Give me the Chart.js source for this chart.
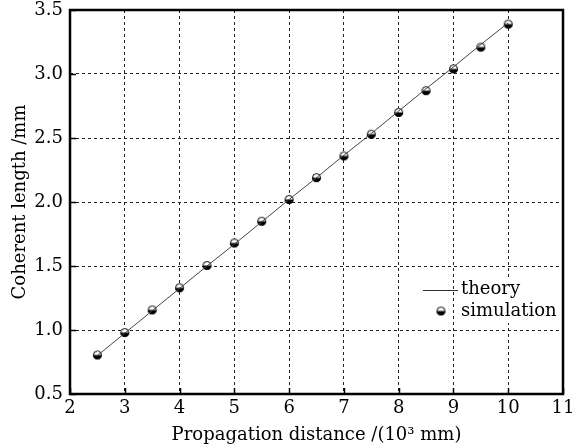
<!DOCTYPE html>
<html>
<head>
<meta charset="utf-8">
<script src="https://cdn.jsdelivr.net/npm/chart.js@4"></script>
<style>
  html, body { margin: 0; padding: 0; background: #fff; }
  #wrap { width: 576px; height: 446px; }
</style>
</head>
<body>
<div id="wrap"><canvas id="chart" width="576" height="446"></canvas></div>
<script>
// data
const distances = [2.5, 3, 3.5, 4, 4.5, 5, 5.5, 6, 6.5, 7, 7.5, 8, 8.5, 9, 9.5, 10];
const theory = [0.80, 0.975, 1.15, 1.325, 1.50, 1.67, 1.845, 2.02, 2.19, 2.365, 2.535, 2.71, 2.885, 3.055, 3.23, 3.40];
const simulation = [0.805, 0.98, 1.157, 1.33, 1.504, 1.68, 1.85, 2.02, 2.19, 2.36, 2.53, 2.70, 2.87, 3.04, 3.21, 3.39];
const xTicks = [2, 3, 4, 5, 6, 7, 8, 9, 10, 11];
const yTicks = [0.5, 1.0, 1.5, 2.0, 2.5, 3.0, 3.5];

const FONT = "'DejaVu Serif', serif";

// half filled marker (white top, black bottom)
function makeMarker(r) {
  const c = document.createElement("canvas");
  const s = r * 2 + 2;
  c.width = s; c.height = s;
  const g = c.getContext("2d");
  const m = s / 2;
  g.fillStyle = "#fff";
  g.beginPath(); g.arc(m, m, r, Math.PI, 0); g.fill();
  g.fillStyle = "#000";
  g.beginPath(); g.arc(m, m, r, 0, Math.PI); g.fill();
  g.strokeStyle = "#000";
  g.lineWidth = 1;
  g.beginPath(); g.arc(m, m, r - 0.5, 0, Math.PI * 2); g.stroke();
  return c;
}
const marker = makeMarker(4.5);

// frame, inner ticks and legend
const framePlugin = {
  id: "frame",
  afterDraw(chart) {
    const ctx = chart.ctx;
    const a = chart.chartArea;
    const xs = chart.scales.x, ys = chart.scales.y;
    ctx.save();
    ctx.strokeStyle = "#000";
    ctx.lineWidth = 1.5;
    xTicks.forEach(v => {
      const px = Math.round(xs.getPixelForValue(v)) + 0.5;
      ctx.beginPath(); ctx.moveTo(px, a.bottom); ctx.lineTo(px, a.bottom - 6); ctx.stroke();
    });
    yTicks.forEach(v => {
      const py = Math.round(ys.getPixelForValue(v)) + 0.5;
      ctx.beginPath(); ctx.moveTo(a.left, py); ctx.lineTo(a.left + 6, py); ctx.stroke();
    });
    ctx.lineWidth = 2.5;
    ctx.strokeRect(a.left, a.top, a.right - a.left, a.bottom - a.top);

    // legend
    ctx.fillStyle = "#fff";
    ctx.fillRect(461, 279, 97, 44);
    ctx.strokeStyle = "#333";
    ctx.lineWidth = 1;
    ctx.beginPath(); ctx.moveTo(423, 290.5); ctx.lineTo(458, 290.5); ctx.stroke();
    ctx.drawImage(marker, 441 - marker.width / 2, 311 - marker.height / 2);
    ctx.fillStyle = "#000";
    ctx.font = "18px " + FONT;
    ctx.textBaseline = "middle";
    ctx.textAlign = "left";
    ctx.fillText("theory", 461, 289);
    ctx.fillText("simulation", 461, 311);
    ctx.restore();
  }
};

new Chart(document.getElementById("chart"), {
  type: "line",
  data: {
    datasets: [
      {
        label: "theory",
        data: distances.map((x, i) => ({ x: x, y: theory[i] })),
        borderColor: "#444",
        borderWidth: 1,
        pointRadius: 0,
        tension: 0
      },
      {
        label: "simulation",
        data: distances.map((x, i) => ({ x: x, y: simulation[i] })),
        showLine: false,
        pointStyle: marker,
        pointRadius: 5
      }
    ]
  },
  options: {
    responsive: false,
    animation: false,
    layout: { padding: { top: 10, right: 13, left: 0, bottom: 0 } },
    plugins: {
      legend: { display: false },
      tooltip: { enabled: false }
    },
    scales: {
      x: {
        type: "linear",
        min: 2, max: 11,
        afterBuildTicks: s => { s.ticks = xTicks.map(v => ({ value: v })); },
        afterFit: s => { s.height = 52; s.paddingLeft = 0; s.paddingRight = 0; },
        grid: {
          color: "#222",
          lineWidth: 1,
          drawTicks: false
        },
        border: { display: false, dash: [3, 3] },
        ticks: {
          color: "#000",
          padding: 4,
          maxRotation: 0,
          font: { family: FONT, size: 18 },
          callback: v => String(v)
        },
        title: {
          display: true,
          text: "Propagation distance /(10\u00b3 mm)",
          color: "#000",
          font: { family: FONT, size: 18 },
          padding: { top: 0, bottom: 0 }
        }
      },
      y: {
        type: "linear",
        min: 0.5, max: 3.5,
        afterBuildTicks: s => { s.ticks = yTicks.map(v => ({ value: v })); },
        afterFit: s => { s.width = 70; s.paddingTop = 0; s.paddingBottom = 0; },
        grid: {
          color: "#222",
          lineWidth: 1,
          drawTicks: false
        },
        border: { display: false, dash: [3, 3] },
        ticks: {
          color: "#000",
          padding: 7,
          font: { family: FONT, size: 18 },
          callback: v => v.toFixed(1)
        },
        title: {
          display: true,
          text: "Coherent length /mm",
          color: "#000",
          font: { family: FONT, size: 18 },
          padding: { top: 10, bottom: 0 }
        }
      }
    }
  },
  plugins: [framePlugin]
});
</script>
</body>
</html>
